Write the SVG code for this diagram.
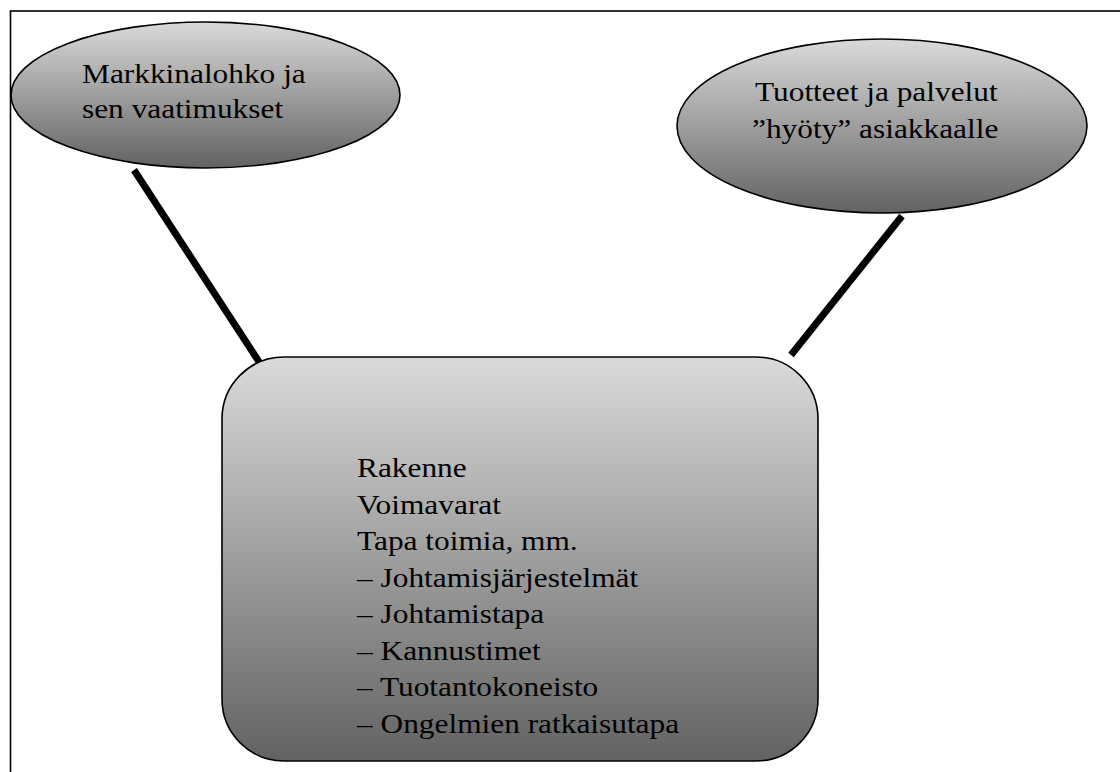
<svg xmlns="http://www.w3.org/2000/svg" width="1120" height="772" viewBox="0 0 1120 772">
<defs>
<linearGradient id="g" x1="0" y1="0" x2="0" y2="1">
<stop offset="0" stop-color="#dadada"/>
<stop offset="1" stop-color="#626262"/>
</linearGradient>
<style>
.shape{fill:url(#g);stroke:#000;stroke-width:1.6}
.t{font-family:"Liberation Serif","Times New Roman",serif;font-size:28px;fill:#000}
.c{stroke:#000;stroke-width:7;fill:none}
</style>
</defs>
<rect x="10.5" y="11" width="1200" height="800" fill="#fff" stroke="#000" stroke-width="1.6"/>
<g id="connectors">
<line class="c" x1="134" y1="170" x2="265" y2="371"/>
<line class="c" x1="902" y1="216" x2="791" y2="355"/>
</g>
<g id="node-markkinalohko">
<ellipse class="shape" cx="205.5" cy="95" rx="194.5" ry="73"/>
<text class="t" transform="translate(82,83) scale(1.12,1)">Markkinalohko ja</text>
<text class="t" transform="translate(82,118) scale(1.12,1)">sen vaatimukset</text>
</g>
<g id="node-tuotteet">
<ellipse class="shape" cx="882" cy="126" rx="205" ry="87"/>
<text class="t" transform="translate(755,101) scale(1.12,1)">Tuotteet ja palvelut</text>
<text class="t" transform="translate(752,138) scale(1.12,1)">”hyöty” asiakkaalle</text>
</g>
<g id="node-yritys">
<rect class="shape" x="222" y="357" width="596" height="404" rx="62" ry="62"/>
<text class="t" transform="translate(357,477) scale(1.12,1)">Rakenne</text>
<text class="t" transform="translate(357,513.5) scale(1.12,1)">Voimavarat</text>
<text class="t" transform="translate(357,550) scale(1.12,1)">Tapa toimia, mm.</text>
<text class="t" transform="translate(357,586.5) scale(1.12,1)">– Johtamisjärjestelmät</text>
<text class="t" transform="translate(357,623) scale(1.12,1)">– Johtamistapa</text>
<text class="t" transform="translate(357,659.5) scale(1.12,1)">– Kannustimet</text>
<text class="t" transform="translate(357,696) scale(1.12,1)">– Tuotantokoneisto</text>
<text class="t" transform="translate(357,732.5) scale(1.12,1)">– Ongelmien ratkaisutapa</text>
</g>
</svg>
